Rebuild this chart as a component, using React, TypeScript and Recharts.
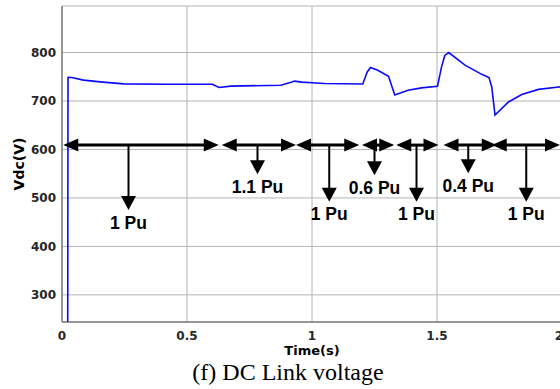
import React from 'react';
import { ComposedChart, Line, XAxis, YAxis, CartesianGrid, ReferenceLine } from 'recharts';

// DC link voltage trace (time in s, voltage in V)
const timeS = [
  0.023, 0.024, 0.039, 0.086, 0.153, 0.246, 0.42, 0.601, 0.628, 0.675, 0.875,
  0.92, 0.93, 0.96, 1.0, 1.05, 1.203, 1.221, 1.234, 1.263, 1.306, 1.331,
  1.384, 1.438, 1.502, 1.518, 1.531, 1.547, 1.612, 1.679, 1.708, 1.719, 1.732,
  1.786, 1.839, 1.906, 1.987, 2.0,
];
const vdcV = [
  244, 749, 748.5, 743, 739.5, 735.3, 734.7, 734.7, 728, 730.6, 732.6,
  739, 741, 739, 737.5, 736, 735, 760, 769, 763.5, 751, 712.6,
  722, 727, 730.5, 770, 794, 800, 774, 755, 748.5, 729, 671,
  698, 713.5, 724, 729, 729.5,
];

const xTicks = [0, 0.5, 1, 1.5, 2];
const yTicks = [300, 400, 500, 600, 700, 800];
const yDomain = [244, 896];

// Load-step annotation spans (double-headed arrows)
const spanStarts = [0.005, 0.639, 0.936, 1.2, 1.337, 1.526, 1.719];
const spanEnds = [0.627, 0.936, 1.189, 1.329, 1.506, 1.739, 1.992];
const spanLevel = 609;
// Down-pointing arrows with load labels
const pointerT = [0.266, 0.782, 1.069, 1.25, 1.418, 1.625, 1.857];
const pointerTip = [475, 549, 492, 547, 492, 551, 492];
const pointerLabels = ['1 Pu', '1.1 Pu', '1 Pu', '0.6 Pu', '1 Pu', '0.4 Pu', '1 Pu'];

const data = timeS.map((t, i) => ({ t, v: vdcV[i] }));

const tickStyle = {
  fill: '#262626',
  fontSize: 12,
  fontWeight: 'bold' as const,
  fontFamily: 'DejaVu Sans',
};

const DoubleArrow = (p: any) => {
  const { x1, y1, x2 } = p;
  const y = y1;
  const hl = 15;
  const hh = 6.5;
  return (
    <g>
      <line x1={x1 + 8} y1={y} x2={x2 - 8} y2={y} stroke="#000" strokeWidth={3} />
      <polygon points={`${x1},${y} ${x1 + hl},${y - hh} ${x1 + hl},${y + hh}`} fill="#000" />
      <polygon points={`${x2},${y} ${x2 - hl},${y - hh} ${x2 - hl},${y + hh}`} fill="#000" />
    </g>
  );
};

const makeDownArrow = (label: string) => (p: any) => {
  const { x1, y1, y2 } = p;
  const x = x1;
  const hl = 14;
  const hw = 7.5;
  return (
    <g>
      <line x1={x} y1={y1} x2={x} y2={y2 - hl + 1} stroke="#000" strokeWidth={2} />
      <polygon points={`${x - hw},${y2 - hl} ${x + hw},${y2 - hl} ${x},${y2}`} fill="#000" />
      <text
        x={x}
        y={y2 + 18.5}
        textAnchor="middle"
        fontFamily="Liberation Sans, Arial, sans-serif"
        fontWeight="bold"
        fontSize={17.5}
        fill="#000"
      >
        {label}
      </text>
    </g>
  );
};

export default function App() {
  return (
    <div
      style={{
        position: 'absolute',
        left: 0,
        top: 0,
        width: 560,
        height: 389,
        background: '#fff',
        overflow: 'hidden',
      }}
    >
      <ComposedChart
        width={562}
        height={389}
        data={data}
        margin={{ top: 6, right: 0, bottom: 27, left: 0 }}
      >
        <CartesianGrid stroke="#b4b4b4" strokeWidth={1} />
        <XAxis
          xAxisId="top"
          orientation="top"
          type="number"
          domain={[0, 2]}
          ticks={xTicks}
          tick={false}
          tickLine={false}
          height={0}
          axisLine={{ stroke: '#9a9a9a' }}
        />
        <XAxis
          dataKey="t"
          type="number"
          domain={[0, 2]}
          ticks={xTicks}
          tickLine={false}
          tickMargin={3}
          height={40}
          axisLine={{ stroke: '#555' }}
          tick={tickStyle}
          label={{
            value: 'Time(s)',
            position: 'insideBottom',
            offset: 7,
            fill: '#000',
            fontSize: 13,
            fontWeight: 'bold',
            fontFamily: 'DejaVu Sans',
          }}
        />
        <YAxis
          type="number"
          domain={yDomain}
          ticks={yTicks}
          allowDataOverflow
          width={62}
          tickLine={false}
          tickMargin={0}
          axisLine={{ stroke: '#555' }}
          tick={tickStyle}
          label={{
            value: 'Vdc(V)',
            angle: -90,
            position: 'insideLeft',
            offset: 19,
            fill: '#000',
            fontSize: 14,
            fontWeight: 'bold',
            fontFamily: 'DejaVu Sans',
            style: { textAnchor: 'middle' },
          }}
        />
        <Line
          dataKey="v"
          type="linear"
          stroke="#0a0aff"
          strokeWidth={1.6}
          dot={false}
          isAnimationActive={false}
        />
        {spanStarts.map((s, i) => (
          <ReferenceLine
            key={`span-${i}`}
            segment={[{ x: s, y: spanLevel }, { x: spanEnds[i], y: spanLevel }]}
            ifOverflow="visible"
            shape={DoubleArrow}
          />
        ))}
        {pointerT.map((t, i) => (
          <ReferenceLine
            key={`ptr-${i}`}
            segment={[{ x: t, y: spanLevel }, { x: t, y: pointerTip[i] }]}
            ifOverflow="visible"
            shape={makeDownArrow(pointerLabels[i])}
          />
        ))}
      </ComposedChart>
      <div
        style={{
          position: 'absolute',
          left: 0,
          top: 358,
          width: 576,
          textAlign: 'center',
          fontFamily: 'Liberation Serif, Times New Roman, serif',
          fontSize: 24,
          lineHeight: '28px',
          color: '#000',
          whiteSpace: 'nowrap',
        }}
      >
        (f) DC Link voltage
      </div>
    </div>
  );
}
